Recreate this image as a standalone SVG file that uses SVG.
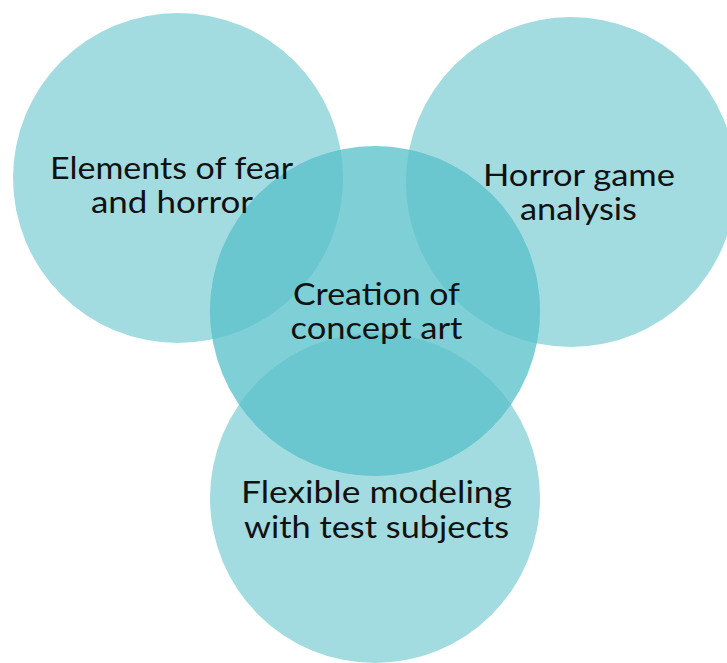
<svg xmlns="http://www.w3.org/2000/svg" width="727" height="663" viewBox="0 0 727 663">
  <style>
    .ring { fill: #A3DCE0; }
    .core { fill: #7ECFD6; }
    .overlap { fill: #6AC6CF; }
    .label { font-family: Lato, "Open Sans", "Liberation Sans", sans-serif; font-size: 30px; fill: #111111; text-anchor: middle; }
  </style>
  <defs>
    <clipPath id="coreClip">
      <circle cx="375" cy="311" r="165"/>
    </clipPath>
  </defs>
  <rect width="727" height="663" fill="#FFFFFF"/>

  <!-- outer circles -->
  <g id="node-fear">
    <circle class="ring" cx="178" cy="178" r="165"/>
  </g>
  <g id="node-analysis">
    <circle class="ring" cx="571" cy="182" r="165"/>
  </g>
  <g id="node-modeling">
    <circle class="ring" cx="375" cy="498" r="165"/>
  </g>

  <!-- central circle with darker overlaps -->
  <g id="node-concept">
    <circle class="core" cx="375" cy="311" r="165"/>
    <g clip-path="url(#coreClip)">
      <circle class="overlap" cx="178" cy="178" r="165"/>
      <circle class="overlap" cx="571" cy="182" r="165"/>
      <circle class="overlap" cx="375" cy="498" r="165"/>
    </g>
  </g>

  <!-- labels -->
  <g id="label-fear">
    <text class="label" x="171.5" y="179" textLength="243" lengthAdjust="spacingAndGlyphs">Elements of fear</text>
    <text class="label" x="172" y="213" textLength="162" lengthAdjust="spacingAndGlyphs">and horror</text>
  </g>
  <g id="label-analysis">
    <text class="label" x="579" y="186" textLength="192" lengthAdjust="spacingAndGlyphs">Horror game</text>
    <text class="label" x="578.5" y="220" textLength="117" lengthAdjust="spacingAndGlyphs">analysis</text>
  </g>
  <g id="label-concept">
    <text class="label" x="376.5" y="305" textLength="167" lengthAdjust="spacingAndGlyphs">Creation of</text>
    <text class="label" x="376.5" y="339" textLength="172" lengthAdjust="spacingAndGlyphs">concept art</text>
  </g>
  <g id="label-modeling">
    <text class="label" x="376.5" y="503" textLength="271" lengthAdjust="spacingAndGlyphs">Flexible modeling</text>
    <text class="label" x="376.5" y="538" textLength="265" lengthAdjust="spacingAndGlyphs">with test subjects</text>
  </g>
</svg>
